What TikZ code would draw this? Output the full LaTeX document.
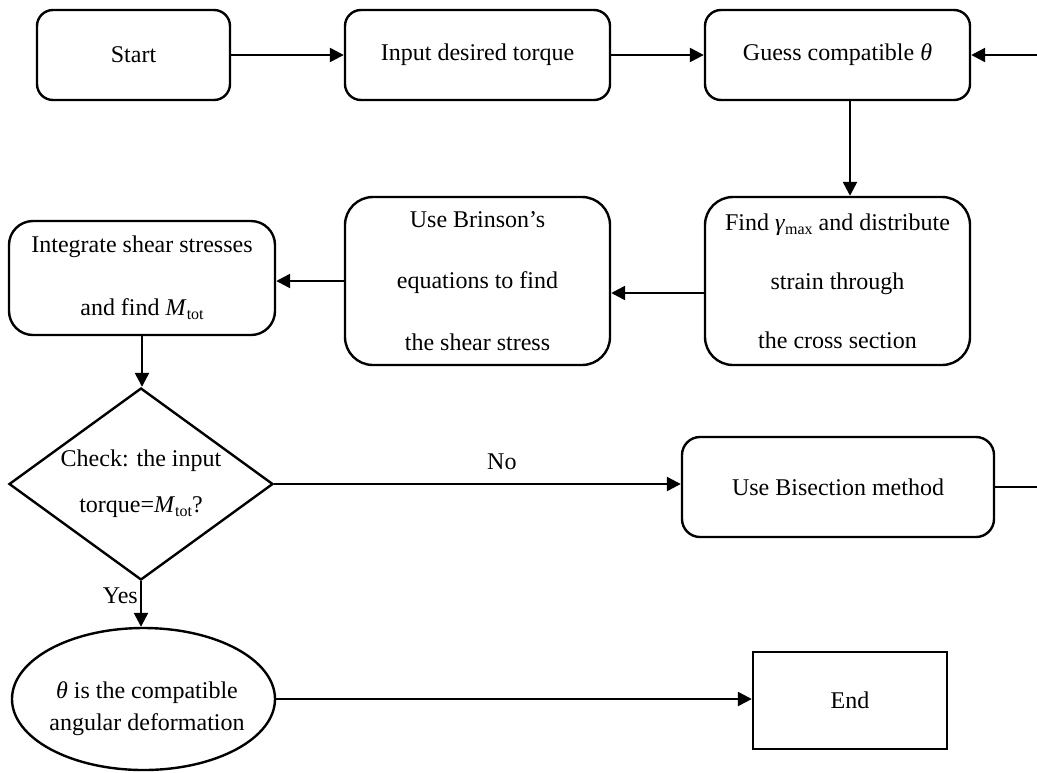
\documentclass[tikz,border=0pt]{standalone}
\usepackage{fontspec}
\setmainfont{Liberation Serif}
\usetikzlibrary{arrows.meta,shapes.geometric}
\newcommand{\subtxt}[1]{\raisebox{-0.35ex}{\fontsize{8}{8}\selectfont #1}}
\begin{document}
\begin{tikzpicture}[x=0.5pt,y=-0.5pt,
  font=\fontsize{12}{14}\selectfont,
  flow/.style={draw, line width=1.2pt, align=center, inner sep=0pt},
  arr/.style={-{Triangle[length=7pt,width=7pt]}, line width=1.2pt}]
\useasboundingbox (0,0) rectangle (1037,772);

\node[flow, rounded corners=8pt, minimum width=96.5pt, minimum height=45pt] (start) at (133.5,55) {Start};
\node[flow, rounded corners=8pt, minimum width=132.5pt, minimum height=45pt] (input) at (477.5,55) {Input desired torque};
\node[flow, rounded corners=8pt, minimum width=132.5pt, minimum height=45pt] (guess) at (837.5,55) {Guess compatible \textit{θ}};

\node[flow, rounded corners=14pt, minimum width=132.5pt, minimum height=84pt, font={\fontsize{12}{29.5}\selectfont}] (find) at (837.5,281)
  {Find \textit{γ}\subtxt{max} and distribute\\strain through\\the cross section};
\node[flow, rounded corners=14pt, minimum width=132.5pt, minimum height=84pt, font={\fontsize{12}{30.75}\selectfont}] (brin) at (477.5,281)
  {Use Brinson’s\\equations to find\\the shear stress};
\node[flow, rounded corners=12pt, minimum width=133pt, minimum height=57pt, font={\fontsize{12}{31.5}\selectfont}] (integ) at (142,278)
  {Integrate shear stresses\\and find \textit{M}\subtxt{tot}};

\node[flow, diamond, aspect=1.375, minimum width=132pt, minimum height=96pt, font={\fontsize{12}{23}\selectfont}] (check) at (141,484)
  {Check: the input\\torque=\textit{M}\subtxt{tot}?};
\node[flow, rounded corners=9pt, minimum width=156pt, minimum height=50pt] (bis) at (838,487) {Use Bisection method};

\node[flow, ellipse, minimum width=131.5pt, minimum height=71pt] (res) at (143.5,699) {};
\node[align=center, inner sep=0pt, font={\fontsize{12}{16}\selectfont}] (restext) at (147,709)
  {\textit{θ} is the compatible\\angular deformation};
\node[flow, minimum width=97pt, minimum height=48.5pt] (stop) at (850,700.5) {End};

\draw[arr] (start) -- (input);
\draw[arr] (input) -- (guess);
\draw[arr] ([xshift=6.25pt]guess.south) -- ([xshift=6.25pt]guess.south |- find.north);
\draw[arr] ([yshift=-6pt]find.west) -- ([yshift=-6pt]find.west -| brin.east);
\draw[arr] (brin.west) -- (brin.west -| integ.east);
\draw[arr] (integ.south) -- (integ.south |- check.north);
\draw[arr] (check.east) -- node[pos=0.56, above, yshift=3pt] (nolab) {No} (check.east -| bis.west);
\draw[arr] (check.south) -- node[pos=0.32, left, inner sep=1pt] (yeslab) {Yes} (check.south |- res.north);
\draw[arr] (res.east) -- (res.east -| stop.west);
\draw[arr] (bis.east) -- ++(30pt,0) |- (guess.east);
\end{tikzpicture}
\end{document}
